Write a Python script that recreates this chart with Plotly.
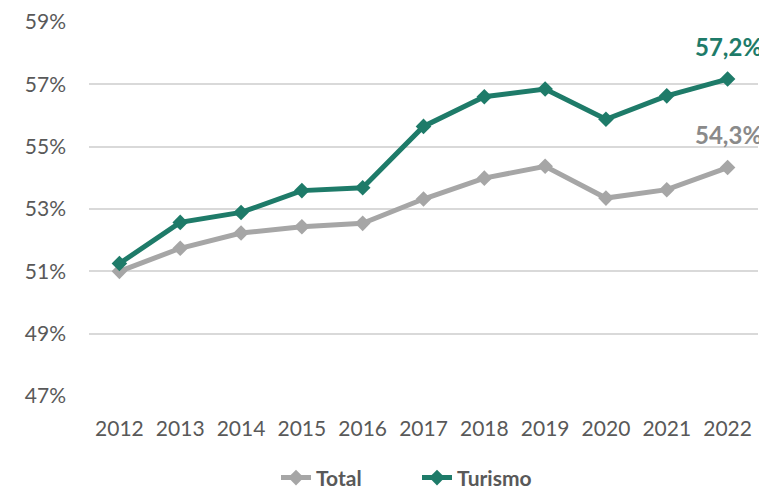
import plotly.graph_objects as go

years = ["2012", "2013", "2014", "2015", "2016", "2017", "2018", "2019", "2020", "2021", "2022"]
total = [51.0, 51.74, 52.23, 52.43, 52.54, 53.32, 53.99, 54.37, 53.35, 53.62, 54.33]
turismo = [51.25, 52.57, 52.89, 53.59, 53.68, 55.65, 56.60, 56.85, 55.88, 56.63, 57.17]
ytick_vals = [47, 49, 51, 53, 55, 57, 59]
ytick_text = ["47%", "49%", "51%", "53%", "55%", "57%", "59%"]

GRAY = "#A6A6A6"
TEAL = "#1E7B69"
TXT = "#595959"
FONT = "Lato"

fig = go.Figure()
fig.add_trace(go.Scatter(x=years, y=total, name="Total", mode="lines+markers",
                         line=dict(color=GRAY, width=5),
                         marker=dict(symbol="diamond", size=12, color=GRAY)))
fig.add_trace(go.Scatter(x=years, y=turismo, name="Turismo", mode="lines+markers",
                         line=dict(color=TEAL, width=5),
                         marker=dict(symbol="diamond", size=12, color=TEAL)))

last = len(years) - 1
fig.add_annotation(x=last, y=turismo[-1], text=f"{turismo[-1]:.1f}%".replace(".", ","),
                   showarrow=False, yshift=33, xshift=1,
                   font=dict(family=FONT, size=24, color=TEAL, weight="bold"))
fig.add_annotation(x=last, y=total[-1], text=f"{total[-1]:.1f}%".replace(".", ","),
                   showarrow=False, yshift=33, xshift=1,
                   font=dict(family=FONT, size=24, color="#8A8A8A", weight="bold"))

fig.update_layout(
    width=759, height=482,
    margin=dict(l=81, r=9, t=14, b=94, autoexpand=False),
    paper_bgcolor="white", plot_bgcolor="white",
    font=dict(family=FONT, size=21, color=TXT),
    showlegend=True,
    legend=dict(orientation="h", x=268 / 759, xref="container", xanchor="left",
                y=0.025, yanchor="middle", yref="container",
                entrywidth=96, entrywidthmode="pixels",
                font=dict(family=FONT, size=21, color=TXT, weight="bold")),
    xaxis=dict(type="category", range=[-0.5, last + 0.5], showgrid=False, showline=False,
               zeroline=False, ticks="", ticklabelstandoff=18,
               tickfont=dict(size=21, color=TXT), fixedrange=True),
    yaxis=dict(range=[47, 59], tickvals=ytick_vals, ticktext=ytick_text,
               showgrid=True, gridcolor="#D9D9D9", gridwidth=2,
               zeroline=False, showline=False, ticks="", ticklabelstandoff=22,
               tickfont=dict(size=21, color=TXT)),
)
fig.write_html("out.html")
